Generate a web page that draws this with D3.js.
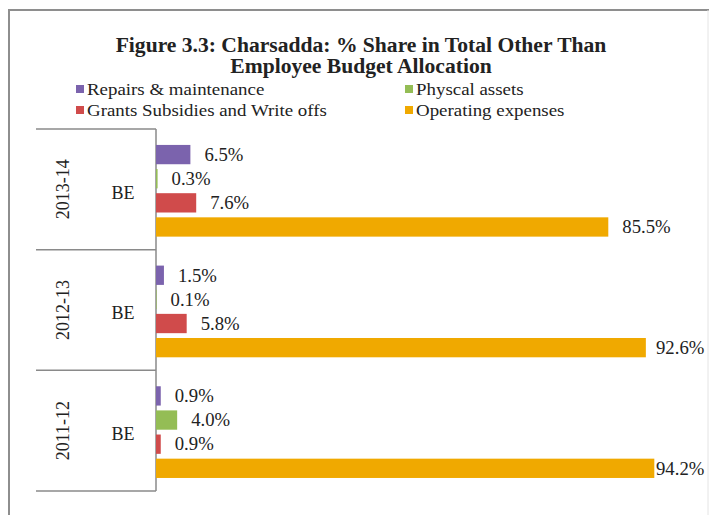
<!DOCTYPE html>
<html>
<head>
<meta charset="utf-8">
<script src="https://cdn.jsdelivr.net/npm/d3@7"></script>
<style>
  html, body { margin: 0; padding: 0; background: #ffffff; }
  svg { display: block; }
  text { font-family: "Liberation Serif", "Times New Roman", serif; fill: #222; }
</style>
</head>
<body>
<svg id="chart" width="709" height="515"></svg>
<script>
// Budget years (top to bottom) and their sub-category label
const years = ["2013-14", "2012-13", "2011-12"];
const subLabel = "BE";

// Spending heads, in the order they are stacked inside each year
const series = ["Repairs & maintenance", "Physcal assets", "Grants Subsidies and Write offs", "Operating expenses"];
const colors = ["#7b63ad", "#94bd55", "#d04b4b", "#f0a900"];

// % share of each head, per year
const repairs   = [6.5, 1.5, 0.9];
const physical  = [0.3, 0.1, 4.0];
const grants    = [7.6, 5.8, 0.9];
const operating = [85.5, 92.6, 94.2];

const valuesBySeries = [repairs, physical, grants, operating];

const rows = [];
years.forEach((y, yi) => {
  series.forEach((s, si) => rows.push({ year: y, series: s, si, value: valuesBySeries[si][yi] }));
});

const svg = d3.select("#chart");
const W = 709, H = 515;
const stretch = 1.08; // slightly wide lettering

// outer frame
const frameColor = "#8e8e8e";
svg.append("line").attr("x1", 8).attr("x2", W).attr("y1", 10).attr("y2", 10)
  .attr("stroke", frameColor).attr("stroke-width", 2);
svg.append("line").attr("x1", 9).attr("x2", 9).attr("y1", 10).attr("y2", H)
  .attr("stroke", frameColor).attr("stroke-width", 2);
svg.append("line").attr("x1", 708).attr("x2", 708).attr("y1", 10).attr("y2", H)
  .attr("stroke", "#e4e4e4").attr("stroke-width", 1);

// title
const titleLines = ["Figure 3.3: Charsadda: % Share in Total Other Than", "Employee Budget Allocation"];
svg.append("g").selectAll("text").data(titleLines).join("text")
  .attr("transform", (d, i) => `translate(361,${52 + i * 21}) scale(${stretch},1)`)
  .attr("text-anchor", "middle")
  .style("font-weight", "bold").style("font-size", "20px")
  .text(d => d);

// legend (2 columns x 2 rows)
const legendPos = [
  { x: 76, y: 85 }, { x: 405, y: 85 },
  { x: 76, y: 106 }, { x: 405, y: 106 }
];
const legend = svg.append("g").selectAll("g").data(series).join("g")
  .attr("transform", (d, i) => `translate(${legendPos[i].x},${legendPos[i].y})`);
legend.append("rect").attr("width", 8).attr("height", 8).attr("fill", (d, i) => colors[i]);
legend.append("text")
  .attr("transform", `translate(11,4) scale(${stretch},1)`)
  .attr("dy", "0.35em")
  .style("font-size", "17.5px").text(d => d);

// scales
const plotTop = 129, plotBottom = 491, axisX = 156;
const x = d3.scaleLinear().domain([0, 100]).range([axisX, axisX + 529]);
const yGroup = d3.scaleBand().domain(years).range([plotTop, plotBottom]);
const yInner = d3.scaleBand().domain(series).range([0, yGroup.bandwidth()])
  .paddingInner(0.2).paddingOuter(0.6).align(0.55);

// category axis: divider lines and labels
const catG = svg.append("g");
const dividers = years.map(y => yGroup(y)).concat([plotBottom]);
catG.selectAll("line.div").data(dividers).join("line").attr("class", "div")
  .attr("x1", 36).attr("x2", axisX).attr("y1", d => d).attr("y2", d => d)
  .attr("stroke", "#8a8a8a").attr("stroke-width", 1.5);
catG.append("line").attr("x1", axisX).attr("x2", axisX).attr("y1", plotTop).attr("y2", plotBottom)
  .attr("stroke", "#8a8a8a").attr("stroke-width", 1.5);

catG.selectAll("text.year").data(years).join("text").attr("class", "year")
  .attr("text-anchor", "middle").style("font-size", "18px")
  .attr("transform", d => `translate(63,${yGroup(d) + yGroup.bandwidth() / 2}) rotate(-90)`)
  .attr("dy", "0.35em").text(d => d);
catG.selectAll("text.sub").data(years).join("text").attr("class", "sub")
  .attr("text-anchor", "middle").style("font-size", "18px")
  .attr("x", 123).attr("y", d => yGroup(d) + yGroup.bandwidth() / 2 + 3)
  .attr("dy", "0.35em").text(subLabel);

// bars
const barG = svg.append("g");
barG.selectAll("rect").data(rows).join("rect")
  .attr("x", x(0))
  .attr("y", d => yGroup(d.year) + yInner(d.series))
  .attr("width", d => x(d.value) - x(0))
  .attr("height", yInner.bandwidth())
  .attr("fill", d => colors[d.si]);

// value labels, kept inside the chart's right edge
const fmt = d3.format(".1f");
barG.selectAll("text").data(rows).join("text")
  .attr("transform", d => `translate(${Math.min(x(d.value) + 14, 656)},${yGroup(d.year) + yInner(d.series) + yInner.bandwidth() / 2}) scale(1.04,1)`)
  .attr("dy", "0.35em")
  .style("font-size", "18px")
  .text(d => fmt(d.value) + "%");
</script>
</body>
</html>
